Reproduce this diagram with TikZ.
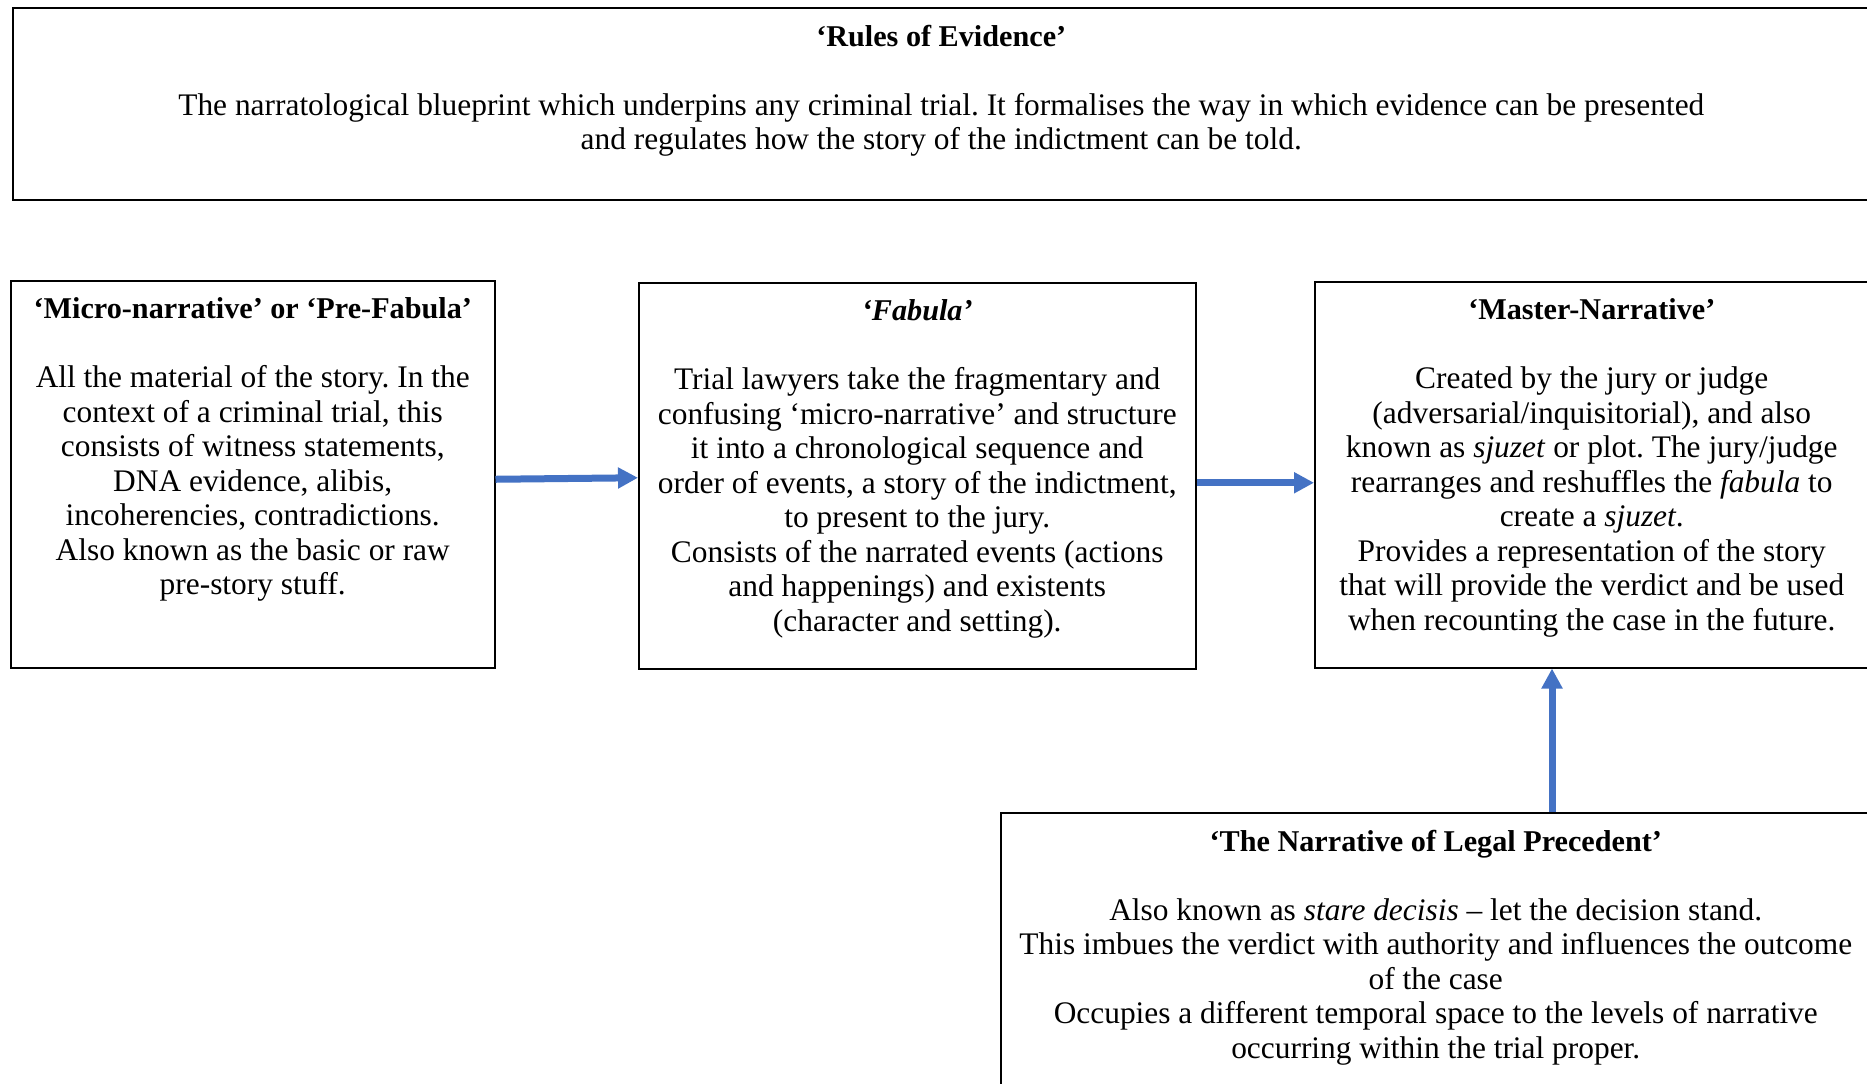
\documentclass[tikz,border=0pt]{standalone}
\usepackage{fontspec}
\setmainfont{Liberation Serif}
\usetikzlibrary{arrows.meta,positioning}
\definecolor{flowblue}{HTML}{4472C4}
\frenchspacing
\newcommand{\boxtitle}[1]{{\fontsize{15.1}{17.25}\selectfont\bfseries #1}}

\begin{document}
\begin{tikzpicture}[x=0.5pt,y=-0.5pt,
  box/.style={draw,line width=0.75pt,inner sep=0pt,anchor=north west},
  boxtext/.style={align=center,inner sep=0pt,font=\fontsize{15.7}{17.25}\selectfont},
  flow/.style={draw=flowblue,line width=3.5pt,-{Triangle[length=10pt,width=10pt]}}]
\useasboundingbox (0,0) rectangle (1867,1083);
% the four boxes
\node[box,minimum width=928.5pt,minimum height=96pt] (rules) at (12,7) {};
\node[box,minimum width=242pt,minimum height=193.5pt] (micro) at (10,280) {};
\node[box,minimum width=278.5pt,minimum height=193pt] (fabula) at (638,282) {};
\node[box,minimum width=277pt,minimum height=193pt] (master) at (1314,281) {};
\node[box,minimum width=435pt,minimum height=144pt] (precedent) at (1000,812) {};
% texts
\node[boxtext,below=8.7pt of rules.north] (rulestext) {\boxtitle{‘Rules of Evidence’}\\[17.25pt]
  The narratological blueprint which underpins any criminal trial. It formalises the way in which evidence can be presented\\
  and regulates how the story of the indictment can be told.};
\node[boxtext,below=8.7pt of micro.north] (microtext) {\boxtitle{‘Micro-narrative’ or ‘Pre-Fabula’}\\[17.25pt]
  All the material of the story. In the\\ context of a criminal trial, this\\ consists of witness statements,\\
  DNA evidence, alibis,\\ incoherencies, contradictions.\\ Also known as the basic or raw\\ pre-story stuff.};
\node[boxtext,below=8.7pt of fabula.north] (fabulatext) {\boxtitle{\itshape ‘Fabula’}\\[17.25pt]
  Trial lawyers take the fragmentary and\\ confusing ‘micro-narrative’ and structure\\ it into a chronological sequence and\\
  order of events, a story of the indictment,\\ to present to the jury.\\ Consists of the narrated events (actions\\
  and happenings) and existents\\ (character and setting).};
\node[boxtext,below=8.7pt of master.north] (mastertext) {\boxtitle{‘Master-Narrative’}\\[17.25pt]
  Created by the jury or judge\\ (adversarial/inquisitorial), and also\\ known as \textit{sjuzet} or plot. The jury/judge\\
  rearranges and reshuffles the \textit{fabula} to\\ create a \textit{sjuzet}.\\ Provides a representation of the story\\
  that will provide the verdict and be used\\ when recounting the case in the future.};
\node[boxtext,below=8.7pt of precedent.north] (precedenttext) {\boxtitle{‘The Narrative of Legal Precedent’}\\[17.25pt]
  Also known as \textit{stare decisis} – let the decision stand.\\ This imbues the verdict with authority and influences the outcome\\
  of the case\\ Occupies a different temporal space to the levels of narrative\\ occurring within the trial proper.};
% arrows
\coordinate (upline) at (1552,0);
\draw[flow] ([yshift=-2.5pt]micro.east) -- ([yshift=-1pt]fabula.west);
\draw[flow] ([yshift=-3.5pt]fabula.east) -- ([yshift=-4pt]master.west);
\draw[flow] (precedent.north -| upline) -- (master.south -| upline);
\end{tikzpicture}
\end{document}
